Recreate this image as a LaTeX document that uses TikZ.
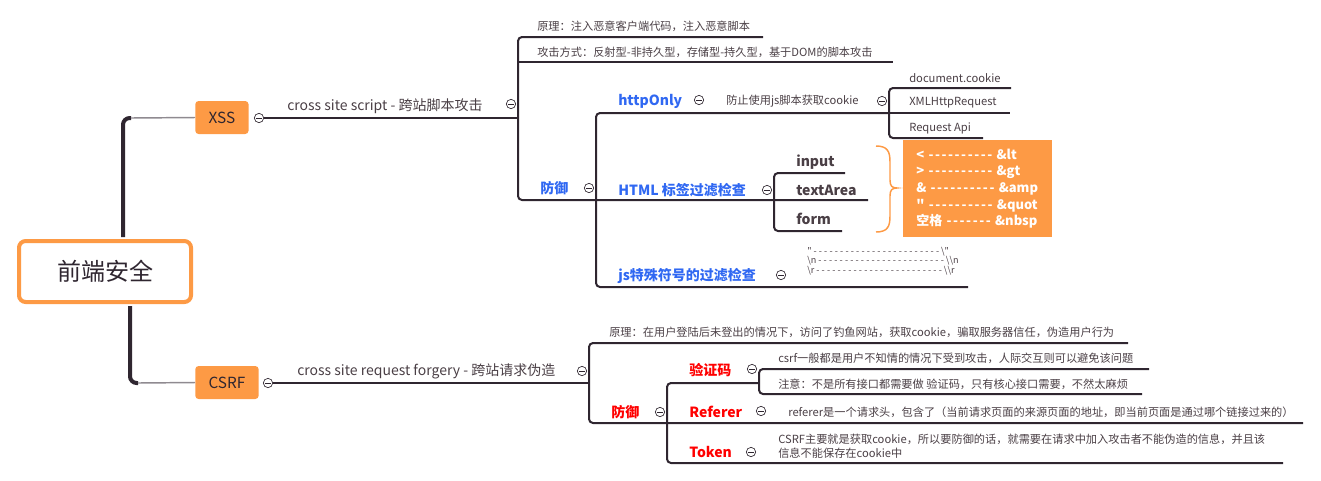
\documentclass[tikz,border=0pt]{standalone}
\usepackage{fontspec}
\setmainfont{Noto Sans CJK SC}[Ligatures=TeXOff]
\usetikzlibrary{positioning}

\definecolor{ink}{HTML}{2F2630}
\definecolor{txt}{HTML}{4A3F45}
\definecolor{mmorange}{HTML}{FD9A45}
\definecolor{mmblue}{HTML}{3068F2}
\definecolor{mmred}{HTML}{FF0000}
\definecolor{twiggray}{HTML}{8F8A90}

% wider hyphens, as in the escape lists
\newcommand{\spaced}[2]{{\addfontfeature{LetterSpace=#1}#2}}

\tikzset{
	root/.style={draw=mmorange, line width=3pt, fill=white, rounded corners=5pt,
		minimum width=129pt, minimum height=45.75pt, text=ink, font=\fontsize{18}{20}\selectfont},
	topic/.style={fill=mmorange, rounded corners=2.5pt, minimum height=24.75pt,
		inner xsep=10pt, text=ink, font=\fontsize{11.5}{13}\selectfont},
	note/.style={anchor=west, inner sep=0pt, text=txt, font=\fontsize{8.4}{10.5}\selectfont},
	midtext/.style={anchor=west, inner sep=0pt, text=txt, font=\fontsize{10.5}{12}\selectfont},
	bluetext/.style={anchor=west, inner sep=0pt, text=mmblue, font=\bfseries\fontsize{10.5}{12}\selectfont},
	redtext/.style={anchor=west, inner sep=0pt, text=mmred, font=\bfseries\fontsize{10.5}{12}\selectfont},
	tagtext/.style={anchor=west, inner sep=0pt, text=txt, font=\bfseries\fontsize{10.5}{12}\selectfont},
	escbox/.style={anchor=north west, fill=mmorange, text=white, align=left,
		inner xsep=9.75pt, inner ysep=5pt, text width=92pt, minimum height=72.75pt,
		font=\bfseries\fontsize{9.75}{12.5}\selectfont},
	tinytext/.style={anchor=west, inner sep=0pt, text=txt, align=left, font=\fontsize{6.8}{7.1}\selectfont},
	fold/.style={circle, draw=ink, line width=0.5pt, fill=white, inner sep=0pt, minimum size=7pt,
		path picture={\draw[ink, line width=0.5pt] ([xshift=1.6pt]path picture bounding box.west) -- ([xshift=-1.6pt]path picture bounding box.east);}},
	trunk/.style={ink, line width=3pt, rounded corners=5pt},
	twig/.style={twiggray, line width=1.1pt},
	branch/.style={ink, line width=1.5pt, rounded corners=3pt},
}

\begin{document}
\begin{tikzpicture}[x=0.75pt,y=-0.75pt]
	\useasboundingbox (0,0) rectangle (1321,480);

	% centre and the two topics
	\node[root] (root) at (105,271.5) {前端安全};
	\node[topic, anchor=west] (xss) at (195,117.5) {XSS};
	\node[topic, anchor=west] (csrf) at (195,382.5) {CSRF};
	\node[fold] (xssfold) at (259,118) {};
	\node[fold] (csrffold) at (268,383) {};

	\coordinate (xk) at (131,118);
	\coordinate (ck) at (138,383);
	\draw[trunk] ([xshift=13.5pt, yshift=1.5pt]root.north) |- (xk);
	\draw[twig] (xk) to (xss.west);
	\draw[trunk] ([xshift=18.75pt, yshift=-1.5pt]root.south) |- (ck);
	\draw[twig] (ck) to (csrf.west);

	% XSS
	\coordinate (xj) at (518,118);
	\draw[branch] (xssfold.east) to (xj);
	\node[midtext] (xssdef) at (287,106) {cross site script - 跨站脚本攻击};
	\node[fold] (xssdeffold) at (511,104) {};
	\draw[branch] (763,37) -| (518,200) -- (868,200);
	\draw[branch] (518,62) to (893,62);
	\node[note] (xssp) at (537,26) {原理：注入恶意客户端代码，注入恶意脚本};
	\node[note] (xssw) at (537,52) {攻击方式：反射型-非持久型，存储型-持久型，基于DOM的脚本攻击};
	\node[bluetext] (xssd) at (540,188) {防御};
	\node[fold] (xssdfold) at (589,188) {};

	\draw[branch] (889,113) -| (596,287) -- (968,287);

	\node[bluetext] (http) at (618,101) {httpOnly};
	\node[fold] (httpfold) at (699,100) {};
	\node[note] (httpn) at (726,101) {防止使用js脚本获取cookie};
	\node[fold] (httpnfold) at (882,101) {};
	\draw[branch] (1011,88) -| (889,138) -- (983,138);
	\draw[branch] (889,113) to (1010,113);
	\node[note] (dc) at (909,78) {document.cookie};
	\node[note] (xhr) at (909,103) {XMLHttpRequest};
	\node[note] (rapi) at (909,128) {Request Api};

	\node[bluetext] (html) at (618,190) {HTML 标签过滤检查};
	\node[fold] (htmlfold) at (767,190) {};
	\draw[branch] (845,173) -| (774,231) -- (842,231);
	\node[tagtext] (inp) at (796,162) {input};
	\node[tagtext] (ta) at (796,190) {textArea};
	\node[tagtext] (frm) at (796,219) {form};

	\draw[mmorange, line width=1.1pt] (876,146) .. controls (888,146) and (890,152) .. (890,162)
		-- (890,180) .. controls (890,186) and (892,188) .. (897,188)
		.. controls (892,188) and (890,190) .. (890,196)
		-- (890,216) .. controls (890,226) and (888,232) .. (876,232);
	\node[escbox] (esc) at (903,140) {< \spaced{12}{----------} \&lt\\> \spaced{12}{----------} \&gt\\\& \spaced{12}{----------} \&amp\\" \spaced{12}{----------} \&quot\\空格 \spaced{12}{-------} \&nbsp};

	\node[bluetext] (js) at (618,276) {js特殊符号的过滤检查};
	\node[fold] (jsfold) at (781,275) {};
	\node[tinytext] (jsesc) at (807,261) {" \spaced{24}{------------------------} \textbackslash"\\\textbackslash n \spaced{24}{------------------------} \textbackslash\textbackslash n\\\textbackslash r \spaced{24}{------------------------} \textbackslash\textbackslash r};

	% CSRF
	\coordinate (cj) at (589,383);
	\draw[branch] (csrffold.east) to (cj);
	\node[midtext] (csrfdef) at (297,371) {cross site request forgery - 跨站请求伪造};
	\node[fold] (csrfdeffold) at (582,371) {};
	\draw[branch] (1128,343) -| (589,423) -- (1303,423);
	\node[note] (csrfp) at (609,332) {原理：在用户登陆后未登出的情况下，访问了钓鱼网站，获取cookie，骗取服务器信任，伪造用户行为};
	\node[redtext] (csrfd) at (611,412) {防御};
	\node[fold] (csrfdfold) at (660,412) {};

	\draw[branch] (759,383) -| (667,463) -- (1283,463);
	\node[redtext] (vcode) at (689,370) {验证码};
	\node[fold] (vcodefold) at (752,369) {};
	\draw[branch] (1149,369) -| (759,394) -- (1142,394);
	\node[note] (vcodea) at (778,358) {csrf一般都是用户不知情的情况下受到攻击，人际交互则可以避免该问题};
	\node[note] (vcodeb) at (778,384) {注意：不是所有接口都需要做 验证码，只有核心接口需要，不然太麻烦};

	\node[redtext] (ref) at (689,412) {Referer};
	\node[fold] (reffold) at (761,411) {};
	\node[note] (refn) at (788,412) {referer是一个请求头，包含了（当前请求页面的来源页面的地址，即当前页面是通过哪个链接过来的）};

	\node[redtext] (tok) at (689,452) {Token};
	\node[fold] (tokfold) at (751,452) {};
	\node[note, align=left] (tokn) at (778,446) {CSRF主要就是获取cookie，所以要防御的话，就需要在请求中加入攻击者不能伪造的信息，并且该\\信息不能保存在cookie中};
\end{tikzpicture}
\end{document}
